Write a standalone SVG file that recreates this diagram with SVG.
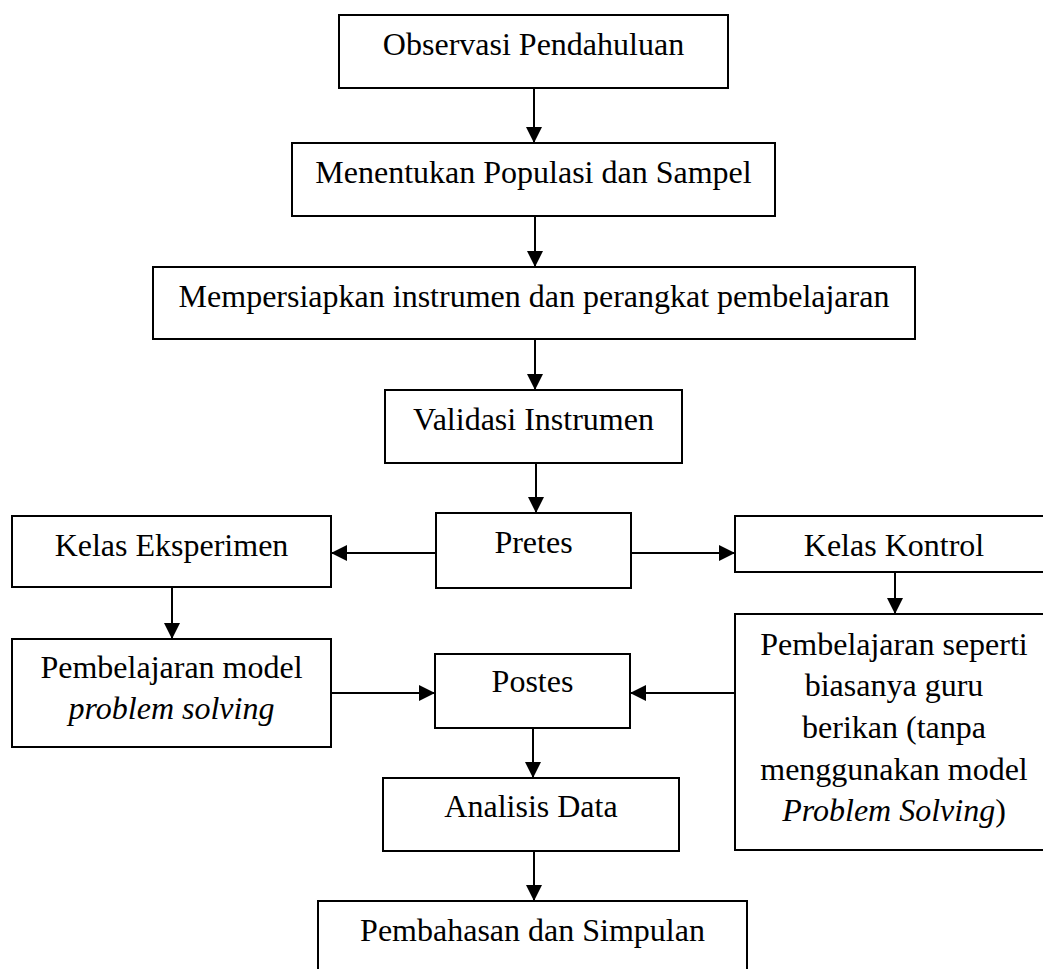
<svg xmlns="http://www.w3.org/2000/svg" width="1043" height="969" viewBox="0 0 1043 969">
<defs>
<style>
.box{fill:#fff;stroke:#000;stroke-width:2}
.t{font-family:"Liberation Serif","Times New Roman",serif;font-size:32px;fill:#000;text-anchor:middle}
.i{font-style:italic}
.c{fill:none;stroke:#000;stroke-width:2}
</style>
<marker id="ah" viewBox="0 0 10 10" refX="10" refY="5" markerWidth="16" markerHeight="16" markerUnits="userSpaceOnUse" orient="auto">
<path d="M0,0 L10,5 L0,10 Z" fill="#000"/>
</marker>
</defs>
<rect width="1043" height="969" fill="#fff"/>
<g id="connectors">
<line class="c" x1="534" y1="88" x2="534" y2="143" marker-end="url(#ah)"/>
<line class="c" x1="535" y1="216" x2="535" y2="267" marker-end="url(#ah)"/>
<line class="c" x1="535" y1="339" x2="535" y2="390" marker-end="url(#ah)"/>
<line class="c" x1="536" y1="463" x2="536" y2="513" marker-end="url(#ah)"/>
<line class="c" x1="436" y1="553" x2="331" y2="553" marker-end="url(#ah)"/>
<line class="c" x1="631" y1="553" x2="735" y2="553" marker-end="url(#ah)"/>
<line class="c" x1="172" y1="587" x2="172" y2="639" marker-end="url(#ah)"/>
<line class="c" x1="895" y1="572" x2="895" y2="614" marker-end="url(#ah)"/>
<line class="c" x1="331" y1="693" x2="435" y2="693" marker-end="url(#ah)"/>
<line class="c" x1="735" y1="693" x2="630" y2="693" marker-end="url(#ah)"/>
<line class="c" x1="533" y1="728" x2="533" y2="778" marker-end="url(#ah)"/>
<line class="c" x1="534" y1="851" x2="534" y2="901" marker-end="url(#ah)"/>
</g>
<g id="n1"><rect class="box" x="339" y="15" width="389" height="73"/><text class="t" x="533.5" y="55">Observasi Pendahuluan</text></g>
<g id="n2"><rect class="box" x="292" y="143" width="483" height="73"/><text class="t" x="533.5" y="183">Menentukan Populasi dan Sampel</text></g>
<g id="n3"><rect class="box" x="153" y="267" width="762" height="72"/><text class="t" x="534" y="307">Mempersiapkan instrumen dan perangkat pembelajaran</text></g>
<g id="n4"><rect class="box" x="385" y="390" width="297" height="73"/><text class="t" x="533.5" y="430">Validasi Instrumen</text></g>
<g id="n5"><rect class="box" x="436" y="513" width="195" height="75"/><text class="t" x="533.5" y="553">Pretes</text></g>
<g id="n6"><rect class="box" x="12" y="516" width="319" height="71"/><text class="t" x="171.5" y="556">Kelas Eksperimen</text></g>
<g id="n7"><rect class="box" x="735" y="516" width="320" height="56"/><text class="t" x="894" y="556">Kelas Kontrol</text></g>
<g id="n8"><rect class="box" x="12" y="639" width="319" height="108"/><text class="t" x="171.5" y="678">Pembelajaran model</text><text class="t i" x="171.5" y="719">problem solving</text></g>
<g id="n9"><rect class="box" x="435" y="654" width="195" height="74"/><text class="t" x="532.5" y="692">Postes</text></g>
<g id="n10"><rect class="box" x="735" y="614" width="320" height="236"/>
<text class="t" x="894" y="655">Pembelajaran seperti</text>
<text class="t" x="894" y="696">biasanya guru</text>
<text class="t" x="894" y="738">berikan (tanpa</text>
<text class="t" x="894" y="780">menggunakan model</text>
<text class="t" x="894" y="821"><tspan class="i">Problem Solving</tspan>)</text></g>
<g id="n11"><rect class="box" x="383" y="778" width="296" height="73"/><text class="t" x="531" y="817">Analisis Data</text></g>
<g id="n12"><rect class="box" x="318" y="901" width="429" height="90"/><text class="t" x="532.5" y="941">Pembahasan dan Simpulan</text></g>
</svg>
